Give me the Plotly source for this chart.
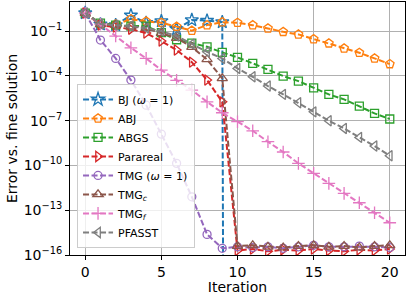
import plotly.graph_objects as go

iterations = list(range(21))

# log10 of the error
bj_log = [0.21, -0.55, -0.6, 0.05, -0.45, -0.33, -0.87, -0.26, -0.3, -0.4]
bj_exact_iter = 10          # error becomes exactly 0 -> plotted as tiny value
abj_log = [0.21, -0.55, -0.55, -0.2, -0.35, -0.44, -0.7, -0.97, -0.6, -0.4, -0.44,
           -0.6, -0.82, -1.05, -1.22, -1.54, -1.82, -2.16, -2.45, -2.83, -3.21]
abgs_log = [0.21, -0.46, -0.6, -0.66, -0.66, -1.1, -1.58, -1.8, -2.05, -2.43, -2.76,
            -3.16, -3.57, -4.01, -4.35, -4.80, -5.24, -5.57, -6.02, -6.51, -6.89]
parareal_log = [0.21, -0.6, -0.73, -0.87, -1.13, -1.67, -2.27, -3.08, -4.28, -5.74,
                -15.7, -15.6, -15.75, -15.65, -15.7, -15.6, -15.7, -15.75, -15.65, -15.7, -15.6]
tmg_log = [0.21, -1.60, -2.83, -4.28, -5.96, -7.90, -9.86, -12.10, -14.62, -15.55,
           -15.45, -15.5, -15.45, -15.55, -15.45, -15.35, -15.45, -15.45, -15.4, -15.45, -15.5]
tmgc_log = [0.21, -0.55, -0.6, -0.7, -0.8, -1.13, -1.47, -2.07, -2.90, -4.17,
            -15.4, -15.35, -15.45, -15.5, -15.4, -15.35, -15.45, -15.4, -15.5, -15.4, -15.35]
tmgf_log = [0.21, -0.53, -1.33, -2.12, -2.83, -3.61, -4.3, -4.95, -5.74, -6.47, -7.07,
            -7.68, -8.41, -9.1, -9.86, -10.53, -11.20, -11.87, -12.50, -13.17, -13.84]
pfasst_log = [0.21, -0.53, -0.6, -0.66, -0.8, -1.0, -1.33, -1.87, -2.39, -2.83, -3.50,
              -4.06, -4.68, -5.24, -5.80, -6.41, -7.01, -7.52, -8.12, -8.70, -9.35]

y_tick_exp = [-16, -13, -10, -7, -4, -1]
x_tick_vals = [0, 5, 10, 15, 20]

def to_val(logs):
    return [10 ** v for v in logs]

series = [
    ("BJ (<i>ω</i> = 1)", list(range(len(bj_log))) + [bj_exact_iter], to_val(bj_log) + [1e-300],
     "#1f77b4", "star-open", 10),
    ("ABJ", iterations, to_val(abj_log), "#ff7f0e", "pentagon-open", 9),
    ("ABGS", iterations, to_val(abgs_log), "#2ca02c", "square-open", 8),
    ("Parareal", iterations, to_val(parareal_log), "#d62728", "triangle-right-open", 9),
    ("TMG (<i>ω</i> = 1)", iterations, to_val(tmg_log), "#9467bd", "circle-open", 8),
    ("TMG<sub><i>c</i></sub>", iterations, to_val(tmgc_log), "#8c564b", "triangle-up-open", 9),
    ("TMG<sub><i>f</i></sub>", iterations, to_val(tmgf_log), "#e377c2", "cross-thin-open", 9),
    ("PFASST", iterations, to_val(pfasst_log), "#7f7f7f", "triangle-left-open", 9),
]

fig = go.Figure()
for name, xs, ys, color, sym, size in series:
    fig.add_trace(go.Scatter(
        x=xs, y=ys, name=name, mode="lines+markers",
        line=dict(color=color, width=2, dash="6px,2.5px"),
        marker=dict(symbol=sym, size=size, color=color, line=dict(color=color, width=1.3)),
    ))

font = dict(family="DejaVu Sans", size=14, color="black")
fig.update_layout(
    width=407, height=295,
    margin=dict(l=70, r=2, t=2, b=40, autoexpand=False),
    paper_bgcolor="white", plot_bgcolor="white",
    font=font,
    showlegend=True,
    legend=dict(
        x=0.021, y=0.028, xanchor="left", yanchor="bottom",
        bgcolor="rgba(255,255,255,0.8)", bordercolor="#cccccc", borderwidth=1,
        font=dict(family="DejaVu Sans", size=11, color="black"),
        tracegroupgap=0, itemwidth=30,
    ),
)
fig.update_xaxes(
    range=[-1.0, 21.0], tickvals=x_tick_vals, ticks="outside", ticklen=4, tickcolor="black",
    showgrid=True, gridcolor="#b0b0b0", gridwidth=1, zeroline=False,
    showline=True, linecolor="black", linewidth=1, mirror=True, automargin=False,
    title=dict(text="Iteration", standoff=0, font=font), tickfont=font,
)
fig.update_yaxes(
    type="log", range=[-16, 0.95],
    tickvals=[10 ** e for e in y_tick_exp],
    ticktext=["10<sup>−%d</sup>" % (-e) for e in y_tick_exp],
    ticks="outside", ticklen=4, tickcolor="black",
    showgrid=True, gridcolor="#b0b0b0", gridwidth=1, zeroline=False,
    showline=True, linecolor="black", linewidth=1, mirror=True, automargin=False,
    title=dict(text="Error vs. fine solution", standoff=2, font=font), tickfont=font,
)

fig.write_html("out.html", config={"displayModeBar": False},
               post_script="document.body.style.margin='0px';document.body.style.overflow='hidden';")
